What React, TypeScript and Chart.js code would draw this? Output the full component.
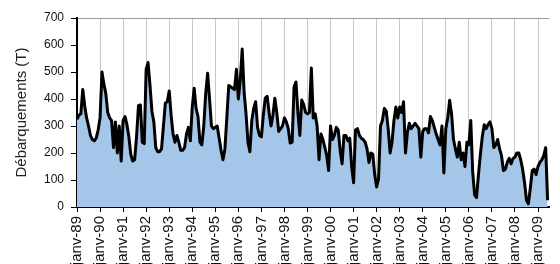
import React, { useEffect, useRef } from 'react';
import { Chart, registerables } from 'chart.js';

Chart.register(...registerables);

// Tick labels (one per January)
const yearLabels = [
  'janv-89', 'janv-90', 'janv-91', 'janv-92', 'janv-93', 'janv-94', 'janv-95',
  'janv-96', 'janv-97', 'janv-98', 'janv-99', 'janv-00', 'janv-01', 'janv-02',
  'janv-03', 'janv-04', 'janv-05', 'janv-06', 'janv-07', 'janv-08', 'janv-09',
];

// Monthly landings (T), one array per year
const d1989 = [325, 340, 345, 435, 375, 330, 300, 265, 250, 245, 255, 285];
const d1990 = [330, 500, 455, 420, 350, 330, 320, 220, 315, 200, 300, 170];
const d1991 = [320, 335, 305, 260, 195, 170, 175, 260, 375, 378, 240, 235];
const d1992 = [510, 535, 450, 355, 315, 220, 205, 205, 215, 300, 385, 390];
const d1993 = [430, 340, 270, 240, 265, 240, 210, 210, 220, 270, 295, 245];
const d1994 = [370, 440, 365, 335, 240, 230, 300, 420, 495, 400, 300, 290];
const d1995 = [295, 300, 255, 210, 175, 215, 330, 450, 445, 440, 435, 510];
const d1996 = [400, 470, 585, 425, 345, 240, 205, 320, 365, 390, 295, 265];
const d1997 = [260, 340, 403, 410, 350, 300, 340, 403, 350, 280, 290, 300];
const d1998 = [330, 315, 290, 237, 240, 444, 463, 350, 265, 396, 380, 350];
const d1999 = [345, 350, 515, 330, 345, 300, 175, 270, 250, 222, 190, 135];
const d2000 = [300, 250, 265, 295, 285, 210, 160, 265, 265, 245, 255, 150];
const d2001 = [90, 285, 290, 265, 255, 250, 240, 215, 165, 200, 195, 120];
const d2002 = [74, 105, 300, 320, 365, 355, 290, 200, 240, 320, 370, 330];
const d2003 = [370, 350, 390, 200, 275, 310, 290, 300, 310, 300, 290, 185];
const d2004 = [280, 290, 290, 275, 335, 320, 295, 270, 250, 230, 300, 126];
const d2005 = [290, 330, 395, 345, 250, 215, 185, 240, 175, 200, 150, 240];
const d2006 = [230, 320, 130, 45, 35, 120, 195, 260, 305, 290, 305, 315];
const d2007 = [290, 220, 230, 250, 215, 190, 135, 140, 165, 180, 160, 180];
const d2008 = [185, 200, 200, 175, 140, 90, 25, 12, 70, 135, 140, 120];
const d2009 = [150, 165, 175, 190, 220, 25];

const series = [
  ...d1989, ...d1990, ...d1991, ...d1992, ...d1993, ...d1994, ...d1995,
  ...d1996, ...d1997, ...d1998, ...d1999, ...d2000, ...d2001, ...d2002,
  ...d2003, ...d2004, ...d2005, ...d2006, ...d2007, ...d2008, ...d2009,
];

const yTitle = 'Débarquements (T)';
const FONT = "'Liberation Sans', Arial, sans-serif";

export default function App() {
  const ref = useRef<HTMLCanvasElement>(null);

  useEffect(() => {
    const canvas = ref.current;
    if (!canvas) return;
    const chart = new Chart(canvas, {
      type: 'line',
      data: {
        datasets: [
          {
            data: series.map((v, i) => ({ x: i, y: v })),
            borderColor: '#000000',
            borderWidth: 3,
            backgroundColor: '#a4c7e9',
            fill: 'origin',
            pointRadius: 0,
            tension: 0,
            borderJoinStyle: 'round',
          },
        ],
      },
      options: {
        animation: false,
        responsive: false,
        devicePixelRatio: 1,
        layout: { padding: { top: 18, left: 0, right: 0, bottom: 0 } },
        plugins: { legend: { display: false }, tooltip: { enabled: false } },
        scales: {
          x: {
            type: 'linear',
            min: 0,
            max: 246,
            afterFit: (s: any) => {
              s.height = 65;
            },
            ticks: {
              stepSize: 12,
              autoSkip: false,
              includeBounds: false,
              maxRotation: 90,
              minRotation: 90,
              padding: 4,
              color: '#111',
              font: { family: FONT, size: 15 },
              callback: (v: any) => {
                const idx = Math.round(Number(v) / 12);
                return Number(v) % 12 === 0 && yearLabels[idx] ? yearLabels[idx] : null;
              },
            },
            grid: {
              color: '#c8c8c8',
              lineWidth: 1,
              tickColor: '#000',
              tickLength: 5,
            },
            border: { display: true, color: '#000', width: 2 },
          },
          y: {
            min: 0,
            max: 700,
            afterFit: (s: any) => {
              s.width = 77;
            },
            ticks: {
              stepSize: 100,
              padding: 7,
              color: '#111',
              font: { family: FONT, size: 12 },
            },
            grid: {
              color: (c: any) => (c.tick && c.tick.value === 700 ? '#9a9a9a' : 'rgba(0,0,0,0)'),
              tickColor: '#000',
              tickLength: 6,
              lineWidth: 1,
            },
            border: { display: true, color: '#000', width: 2 },
            title: {
              display: true,
              text: yTitle,
              color: '#222',
              font: { family: FONT, size: 15 },
              padding: { top: 13, bottom: 0 },
            },
          },
        },
      },
    });
    return () => chart.destroy();
  }, []);

  return (
    <div style={{ position: 'fixed', left: 0, top: 0, width: 560, height: 272, background: '#fff' }}>
      <canvas ref={ref} width={560} height={272} style={{ display: 'block' }} />
    </div>
  );
}
